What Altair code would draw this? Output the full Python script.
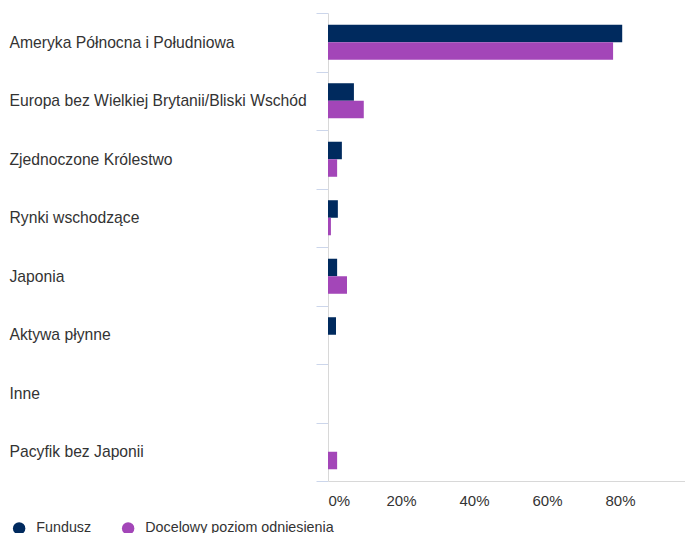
import altair as alt
import pandas as pd

categories = [
    "Ameryka Północna i Południowa",
    "Europa bez Wielkiej Brytanii/Bliski Wschód",
    "Zjednoczone Królestwo",
    "Rynki wschodzące",
    "Japonia",
    "Aktywa płynne",
    "Inne",
    "Pacyfik bez Japonii",
]
fund = [80.6, 7.1, 3.8, 2.7, 2.5, 2.2, 0.0, 0.0]
benchmark = [78.1, 9.8, 2.5, 0.8, 5.2, 0.0, 0.0, 2.5]
series = ["Fundusz", "Docelowy poziom odniesienia"]
colors = ["#002a5e", "#a346b8"]
x_ticks = [0, 20, 40, 60, 80]

rows = []
for c, f, b in zip(categories, fund, benchmark):
    rows.append({"cat": c, "series": series[0], "value": f})
    rows.append({"cat": c, "series": series[1], "value": b})
df = pd.DataFrame(rows)

FONT = "Liberation Sans"

chart = (
    alt.Chart(df)
    .mark_bar()
    .encode(
        y=alt.Y(
            "cat:N",
            sort=categories,
            scale=alt.Scale(paddingInner=0, paddingOuter=0),
            axis=alt.Axis(
                title=None,
                labelAlign="left",
                labelPadding=307,
                tickSize=12,
                tickBand="extent",
                tickColor="#ccd6eb",
                domainColor="#d8d8d8",
                labelFontSize=15.7,
                labelColor="#333333",
                labelFont=FONT,
                labelLimit=400,
            ),
        ),
        yOffset=alt.YOffset(
            "series:N",
            sort=series,
            scale=alt.Scale(paddingOuter=0.67, paddingInner=0),
        ),
        x=alt.X(
            "value:Q",
            scale=alt.Scale(domain=[0, 97.8], nice=False),
            axis=alt.Axis(
                values=x_ticks,
                labelExpr="datum.value + '%'",
                title=None,
                grid=False,
                ticks=False,
                domainColor="#d8d8d8",
                labelFontSize=15,
                labelColor="#333333",
                labelFont=FONT,
                labelPadding=12,
            ),
        ),
        color=alt.Color(
            "series:N",
            sort=series,
            scale=alt.Scale(domain=series, range=colors),
            legend=alt.Legend(
                title=None,
                orient="none",
                legendX=-316,
                legendY=508,
                direction="horizontal",
                symbolType="circle",
                symbolSize=155,
                symbolStrokeWidth=0,
                labelFontSize=14.3,
                labelFont=FONT,
                labelColor="#333333",
                labelOffset=10,
                labelLimit=400,
                columnPadding=29,
            ),
        ),
    )
    .properties(
        width=357,
        height=468,
        autosize=alt.AutoSizeParams(type="none"),
        padding={"left": 320, "top": 5, "right": 0, "bottom": 52},
    )
    .configure_view(stroke=None)
)

chart.save("out.html", embed_options={"renderer": "svg", "actions": False})
